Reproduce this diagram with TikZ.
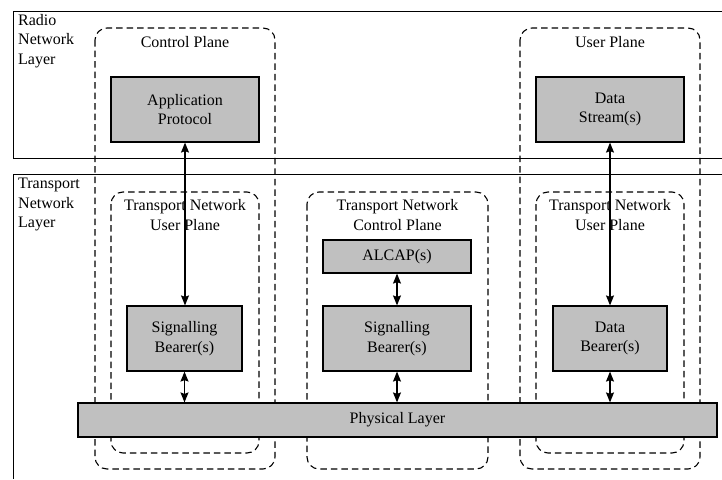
\documentclass[tikz,border=0pt]{standalone}
\usepackage{fontspec}
\setmainfont{Liberation Serif}
\usepackage{tikz}
\usetikzlibrary{arrows.meta,calc}
\definecolor{Box}{RGB}{192, 192, 192}

\begin{document}
\begin{tikzpicture}[x=1pt, y=-1pt,
    font=\fontsize{16}{19.5}\selectfont,
    layerline/.style={line width=1pt},
    planebox/.style={dashed, dash pattern=on 6.5pt off 4pt, line width=1.1pt, rounded corners=12pt},
    blockbox/.style={draw, line width=1.2pt, fill=Box, align=center, inner sep=0pt},
    link/.style={line width=1.3pt, {Stealth[length=10pt,width=8pt,inset=1.5pt]}-{Stealth[length=10pt,width=8pt,inset=1.5pt]}},
    ]
    %% Background
    \useasboundingbox (0,0) rectangle (722,479);

    %% Layers
    \draw[layerline] (722,11) -- (13,11) -- (13,158) -- (722,158);
    \draw[layerline] (722,174) -- (13,174) -- (13,479);
    \node[anchor=north west, align=left, inner sep=0pt] (radio) at (18,14) {Radio\\Network\\Layer};
    \node[anchor=north west, align=left, inner sep=0pt] (transport) at (18,178) {Transport\\Network\\Layer};

    %% Planes
    \draw[planebox] (95,28) rectangle (275,469);
    \draw[planebox] (520,28) rectangle (700,469);
    \draw[planebox] (111,192) rectangle (259,453);
    \draw[planebox] (307,192) rectangle (488,469);
    \draw[planebox] (536,192) rectangle (684,453);
    \node (cplane) at (185,42) {Control Plane};
    \node (uplane) at (610,42) {User Plane};
    \node[align=center] (tnuser1) at (185,215) {Transport Network\\User Plane};
    \node[align=center] (tnctrl) at (397.5,215) {Transport Network\\Control Plane};
    \node[align=center] (tnuser2) at (610,215) {Transport Network\\User Plane};

    %% Blocks
    \node[blockbox, minimum width=148pt, minimum height=65pt] (app) at (185,109.5) {Application\\Protocol};
    \node[blockbox, minimum width=148pt, minimum height=65pt] (stream) at (610,109.5) {Data\\Stream(s)};
    \node[blockbox, minimum width=148pt, minimum height=33pt] (alcap) at (397,256.5) {ALCAP(s)};
    \node[blockbox, minimum width=115pt, minimum height=65pt] (sigA) at (184.5,338.5) {Signalling\\Bearer(s)};
    \node[blockbox, minimum width=148pt, minimum height=65pt] (sigB) at (397,338.5) {Signalling\\Bearer(s)};
    \node[blockbox, minimum width=114pt, minimum height=65pt] (bearer) at (610,338.5) {Data\\Bearer(s)};
    \node[blockbox, minimum width=639pt, minimum height=34pt] (phy) at (397.5,420) {Physical Layer};

    %% Links
    \draw[link] (app.south) -- (sigA.north -| app.south);
    \draw[link] (stream.south) -- (bearer.north);
    \draw[link] (alcap.south) -- (sigB.north);
    \draw[link] (sigA.south) -- (sigA.south |- phy.north);
    \draw[link] (sigB.south) -- (sigB.south |- phy.north);
    \draw[link] (bearer.south) -- (bearer.south |- phy.north);

\end{tikzpicture}
\end{document}
